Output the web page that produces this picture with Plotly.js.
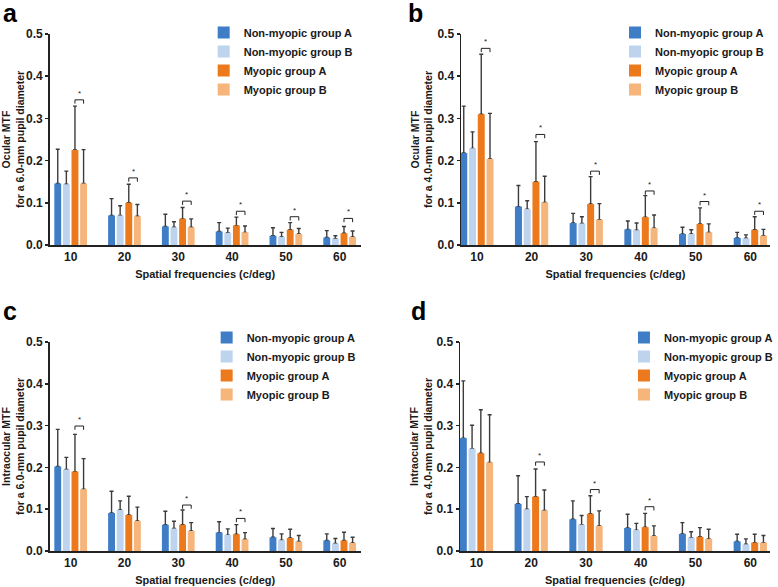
<!DOCTYPE html>
<html>
<head>
<meta charset="utf-8">
<script src="https://cdn.plot.ly/plotly-3.0.1.min.js"></script>
<style>
  html, body { margin: 0; padding: 0; background: #fff; }
  #plot { width: 778px; height: 587px; }
</style>
</head>
<body>
<div id="plot"></div>
<script>
// spatial frequencies on the x axis
const freqs = ['10', '20', '30', '40', '50', '60'];
const groups = ['Non-myopic group A', 'Non-myopic group B', 'Myopic group A', 'Myopic group B'];
const colors = ['#3f7ec6', '#bdd3ee', '#ec7a1c', '#f5b57b'];

// panel a - ocular MTF, 6.0 mm pupil (rows = groups, in legend order)
const aMean = [
  [0.146, 0.070, 0.044, 0.032, 0.022, 0.018],
  [0.144, 0.070, 0.042, 0.029, 0.019, 0.015],
  [0.225, 0.100, 0.062, 0.046, 0.036, 0.028],
  [0.146, 0.068, 0.042, 0.030, 0.026, 0.019]
];
const aSd = [
  [0.081, 0.040, 0.029, 0.021, 0.019, 0.016],
  [0.031, 0.023, 0.013, 0.011, 0.011, 0.007],
  [0.104, 0.044, 0.027, 0.020, 0.017, 0.016],
  [0.080, 0.028, 0.020, 0.015, 0.013, 0.014]
];
const aStar = [0.344, 0.159, 0.104, 0.080, 0.067, 0.063];

// panel b - ocular MTF, 4.0 mm pupil
const bMean = [
  [0.218, 0.091, 0.052, 0.037, 0.026, 0.017],
  [0.229, 0.085, 0.051, 0.035, 0.026, 0.016],
  [0.310, 0.150, 0.097, 0.066, 0.050, 0.036],
  [0.204, 0.101, 0.060, 0.040, 0.030, 0.022]
];
const bSd = [
  [0.111, 0.050, 0.023, 0.020, 0.016, 0.013],
  [0.039, 0.020, 0.016, 0.017, 0.010, 0.008],
  [0.142, 0.095, 0.065, 0.051, 0.038, 0.031],
  [0.108, 0.062, 0.038, 0.031, 0.020, 0.015]
];
const bStar = [0.466, 0.262, 0.175, 0.128, 0.103, 0.080];

// panel c - intraocular MTF, 6.0 mm pupil
const cMean = [
  [0.202, 0.091, 0.063, 0.044, 0.033, 0.025],
  [0.195, 0.098, 0.054, 0.038, 0.026, 0.018],
  [0.190, 0.086, 0.063, 0.040, 0.031, 0.025],
  [0.148, 0.072, 0.048, 0.028, 0.023, 0.019]
];
const cSd = [
  [0.089, 0.052, 0.032, 0.026, 0.021, 0.016],
  [0.029, 0.022, 0.017, 0.015, 0.015, 0.012],
  [0.089, 0.045, 0.035, 0.023, 0.021, 0.020],
  [0.073, 0.033, 0.020, 0.016, 0.014, 0.014]
];
const cStar = [0.299, null, 0.110, 0.078, null, null];

// panel d - intraocular MTF, 4.0 mm pupil
const dMean = [
  [0.270, 0.113, 0.076, 0.055, 0.041, 0.023],
  [0.245, 0.100, 0.063, 0.050, 0.032, 0.016],
  [0.234, 0.130, 0.089, 0.057, 0.034, 0.020],
  [0.212, 0.097, 0.060, 0.036, 0.029, 0.020]
];
const dSd = [
  [0.137, 0.067, 0.044, 0.033, 0.027, 0.017],
  [0.056, 0.030, 0.022, 0.016, 0.014, 0.013],
  [0.104, 0.066, 0.043, 0.033, 0.022, 0.020],
  [0.114, 0.049, 0.036, 0.024, 0.023, 0.017]
];
const dStar = [null, 0.213, 0.147, 0.106, null, null];

const yTitles = [
  'Ocular MTF<br>for a 6.0-mm pupil diameter',
  'Ocular MTF<br>for a 4.0-mm pupil diameter',
  'Intraocular MTF<br>for a 6.0-mm pupil diameter',
  'Intraocular MTF<br>for a 4.0-mm pupil diameter'
];
const letters = ['a', 'b', 'c', 'd'];

const panels = [
  {mean: aMean, sd: aSd, star: aStar},
  {mean: bMean, sd: bSd, star: bStar},
  {mean: cMean, sd: cSd, star: cStar},
  {mean: dMean, sd: dSd, star: dStar}
];

// pixel geometry of the 2x2 grid (778 x 587 page)
const W = 778, H = 587;
const boxes = [
  {x0: 50, x1: 363, y0: 34, y1: 245, xr: [-0.39, 5.39], leg: [205, 18], lab: [1, 13]},
  {x0: 464, x1: 775, y0: 34, y1: 245, xr: [-0.29, 5.36], leg: [619, 18], lab: [409, 13]},
  {x0: 50, x1: 363, y0: 342, y1: 551, xr: [-0.39, 5.39], leg: [208, 323], lab: [1, 311]},
  {x0: 463, x1: 775, y0: 342, y1: 551, xr: [-0.30, 5.36], leg: [628, 323], lab: [412, 311]}
];

const BARGAP = 0.36;
const GROUPGAP = 0.2;
const slot = (1 - BARGAP) / 4;
const boldFont = {family: 'Liberation Sans, Arial, sans-serif', weight: 'bold', color: '#1a1a1a'};

const errTraces = [];
const faceTraces = [];
const shapes = [];
const annotations = [];

panels.forEach((p, k) => {
  const sfx = k === 0 ? '' : String(k + 1);
  groups.forEach((g, s) => {
    // invisible bars that carry the error bars; the visible bars go on top
    // so the lower cap of each error bar is hidden
    errTraces.push({
      type: 'bar', x: freqs, y: p.mean[s],
      xaxis: 'x' + sfx, yaxis: 'y' + sfx,
      offsetgroup: 'g' + s,
      marker: {color: 'rgba(0,0,0,0)'},
      error_y: {type: 'data', symmetric: false, array: p.sd[s],
                arrayminus: p.sd[s].map(() => 0),
                color: '#3b3b3b', thickness: 1.4, width: 2},
      showlegend: false, hoverinfo: 'skip'
    });
    faceTraces.push({
      type: 'bar', x: freqs, y: p.mean[s], name: g,
      xaxis: 'x' + sfx, yaxis: 'y' + sfx,
      offsetgroup: 'g' + s,
      legend: 'legend' + sfx,
      marker: {color: colors[s], line: {width: 0}}
    });
  });

  // significance brackets between myopic group A and B
  const xa = 'x' + sfx, ya = 'y' + sfx;
  p.star.forEach((h, i) => {
    if (h === null) return;
    const xl = i + 0.5 * slot, xr = i + 1.5 * slot;
    const line = {type: 'line', xref: xa, yref: ya, line: {color: '#222', width: 1}};
    shapes.push(Object.assign({}, line, {x0: xl, x1: xr, y0: h, y1: h}));
    shapes.push(Object.assign({}, line, {x0: xl, x1: xl, y0: h, y1: h - 0.009}));
    shapes.push(Object.assign({}, line, {x0: xr, x1: xr, y0: h, y1: h - 0.009}));
    annotations.push({xref: xa, yref: ya, x: i + slot, y: h, text: '*', showarrow: false,
                      yanchor: 'bottom', font: {size: 8, color: '#222'}});
  });

  annotations.push({xref: 'paper', yref: 'paper', x: boxes[k].lab[0] / W, y: 1 - boxes[k].lab[1] / H,
                    xanchor: 'left', yanchor: 'middle', text: letters[k], showarrow: false,
                    font: Object.assign({}, boldFont, {size: 25, color: '#000'})});
});

const layout = {
  width: W, height: H,
  margin: {l: 0, r: 0, t: 0, b: 0},
  paper_bgcolor: '#fff', plot_bgcolor: 'rgba(0,0,0,0)',
  barmode: 'group', bargap: BARGAP, bargroupgap: GROUPGAP,
  font: {family: 'Liberation Sans, Arial, sans-serif', color: '#1a1a1a'},
  shapes: shapes,
  annotations: annotations,
  showlegend: true
};

boxes.forEach((b, k) => {
  const sfx = k === 0 ? '' : String(k + 1);
  layout['xaxis' + sfx] = {
    domain: [b.x0 / W, b.x1 / W], anchor: 'y' + sfx,
    type: 'category', range: b.xr,
    showline: true, linecolor: '#222', linewidth: 1.8,
    ticks: '', showgrid: false, zeroline: false, fixedrange: true,
    tickfont: Object.assign({}, boldFont, {size: 12}),
    title: {text: 'Spatial frequencies (c/deg)', font: Object.assign({}, boldFont, {size: 11}), standoff: 7}
  };
  layout['yaxis' + sfx] = {
    domain: [1 - b.y1 / H, 1 - b.y0 / H], anchor: 'x' + sfx,
    range: [0, 0.5], dtick: 0.1, tickformat: '.1f',
    showline: true, linecolor: '#222', linewidth: 1.5,
    ticks: 'outside', ticklen: 3, tickwidth: 1.5, tickcolor: '#222',
    showgrid: false, zeroline: false, fixedrange: true,
    tickfont: Object.assign({}, boldFont, {size: 12}),
    title: {text: yTitles[k], font: Object.assign({}, boldFont, {size: 10.5}), standoff: 2}
  };
  layout['legend' + sfx] = {
    x: b.leg[0] / W, y: 1 - b.leg[1] / H, xanchor: 'left', yanchor: 'top',
    bgcolor: 'rgba(0,0,0,0)', traceorder: 'normal',
    font: Object.assign({}, boldFont, {size: 11})
  };
});

Plotly.newPlot('plot', errTraces.concat(faceTraces), layout, {displayModeBar: false, staticPlot: true});
</script>
</body>
</html>
